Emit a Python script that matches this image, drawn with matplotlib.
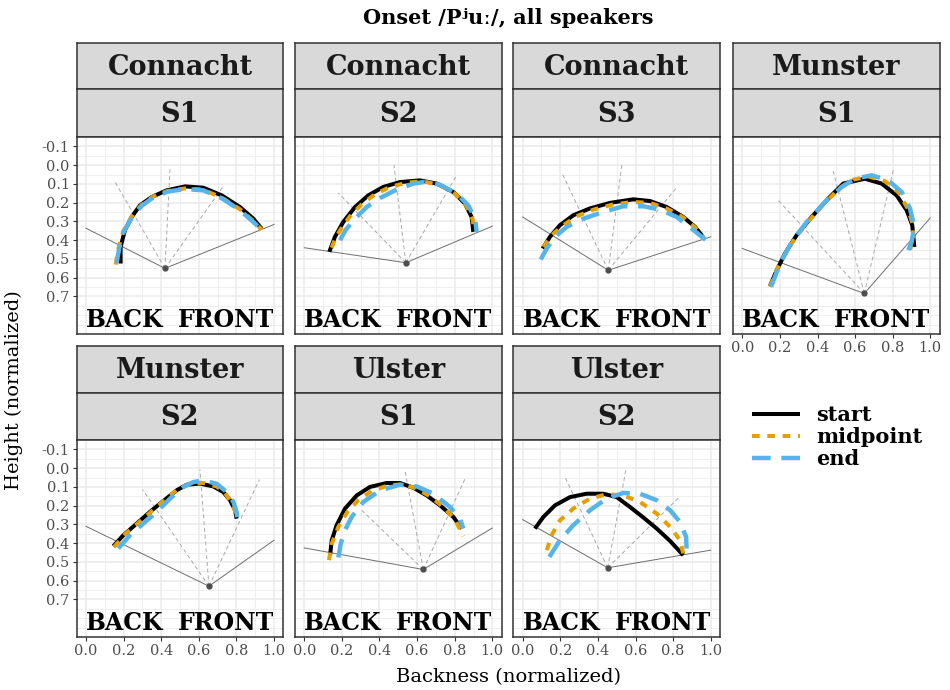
import matplotlib
matplotlib.use('Agg')
import matplotlib.pyplot as plt
from matplotlib.lines import Line2D
from matplotlib.ticker import FormatStrFormatter
import numpy as np

plt.rcParams['font.family'] = ['DejaVu Serif', 'DejaVu Sans']
plt.rcParams['axes.unicode_minus'] = False

# ---- tongue contours, (backness, height) per curve -------------------------
# Connacht S1
c1_fan = [(0.42, 0.55), (0.0, 0.336), (1.0, 0.316), (0.155, 0.09), (0.447, 0.016), (0.73, 0.113)]
c1_start = [(0.184, 0.524), (0.184, 0.436), (0.207, 0.347), (0.243, 0.276), (0.287, 0.214), (0.349, 0.170),
            (0.429, 0.134), (0.527, 0.113), (0.624, 0.120), (0.722, 0.161), (0.819, 0.223), (0.890, 0.285),
            (0.934, 0.338)]
c1_mid = [(0.158, 0.530), (0.172, 0.445), (0.198, 0.352), (0.243, 0.273), (0.295, 0.212), (0.355, 0.168),
          (0.435, 0.137), (0.527, 0.124), (0.624, 0.131), (0.722, 0.173), (0.819, 0.235), (0.890, 0.297),
          (0.934, 0.343)]
c1_end = [(0.163, 0.520), (0.177, 0.440), (0.202, 0.352), (0.246, 0.275), (0.298, 0.215), (0.358, 0.172),
          (0.438, 0.140), (0.527, 0.127), (0.624, 0.134), (0.722, 0.176), (0.815, 0.237), (0.885, 0.298),
          (0.926, 0.336)]

# Connacht S2
c2_fan = [(0.54, 0.52), (0.0, 0.44), (1.0, 0.325), (0.181, 0.148), (0.477, 0.001), (0.805, 0.063)]
c2_start = [(0.133, 0.462), (0.163, 0.382), (0.207, 0.303), (0.270, 0.223), (0.340, 0.161), (0.420, 0.116),
            (0.509, 0.090), (0.615, 0.081), (0.704, 0.098), (0.793, 0.143), (0.855, 0.205), (0.890, 0.276),
            (0.899, 0.356)]
c2_mid = [(0.145, 0.440), (0.165, 0.392), (0.190, 0.347), (0.243, 0.272), (0.305, 0.209), (0.376, 0.155),
          (0.456, 0.116), (0.545, 0.093), (0.633, 0.086), (0.722, 0.107), (0.802, 0.152), (0.864, 0.219),
          (0.896, 0.290), (0.904, 0.356)]
c2_end = [(0.190, 0.400), (0.220, 0.345), (0.270, 0.285), (0.332, 0.223), (0.403, 0.175), (0.491, 0.130),
          (0.580, 0.098), (0.633, 0.090), (0.722, 0.104), (0.811, 0.152), (0.872, 0.214), (0.908, 0.285),
          (0.917, 0.356)]

# Connacht S3
c3_fan = [(0.455, 0.56), (0.0, 0.276), (1.0, 0.382), (0.213, 0.051), (0.527, 0.001), (0.814, 0.125)]
c3_start = [(0.106, 0.444), (0.145, 0.382), (0.198, 0.320), (0.269, 0.267), (0.356, 0.231), (0.464, 0.201),
            (0.588, 0.182), (0.677, 0.191), (0.766, 0.223), (0.854, 0.276), (0.917, 0.329), (0.957, 0.379)]
c3_mid = [(0.110, 0.436), (0.154, 0.373), (0.216, 0.320), (0.287, 0.272), (0.376, 0.237), (0.482, 0.209),
          (0.588, 0.196), (0.677, 0.201), (0.766, 0.231), (0.854, 0.279), (0.917, 0.332), (0.964, 0.386)]
c3_end = [(0.096, 0.503), (0.128, 0.444), (0.172, 0.382), (0.234, 0.329), (0.322, 0.285), (0.429, 0.249),
          (0.535, 0.219), (0.642, 0.219), (0.730, 0.237), (0.819, 0.276), (0.899, 0.338), (0.975, 0.400)]

# Munster S1
m1_fan = [(0.649, 0.684), (0.0, 0.444), (1.0, 0.281), (0.191, 0.187), (0.484, 0.032), (0.803, 0.028)]
m1_start = [(0.147, 0.645), (0.183, 0.560), (0.227, 0.471), (0.289, 0.373), (0.369, 0.276), (0.457, 0.178),
            (0.537, 0.098), (0.652, 0.072), (0.741, 0.098), (0.821, 0.161), (0.874, 0.240), (0.904, 0.320),
            (0.915, 0.436)]
m1_mid = [(0.147, 0.648), (0.191, 0.542), (0.254, 0.427), (0.334, 0.320), (0.431, 0.209), (0.520, 0.120),
          (0.590, 0.077), (0.670, 0.060), (0.759, 0.085), (0.834, 0.148), (0.883, 0.237), (0.910, 0.329),
          (0.906, 0.409), (0.892, 0.450)]
m1_end = [(0.153, 0.648), (0.201, 0.524), (0.263, 0.409), (0.343, 0.303), (0.440, 0.196), (0.529, 0.116),
          (0.599, 0.072), (0.688, 0.054), (0.777, 0.081), (0.848, 0.143), (0.892, 0.231), (0.915, 0.329),
          (0.901, 0.409), (0.883, 0.453)]

# Munster S2
m2_fan = [(0.654, 0.629), (0.0, 0.31), (1.0, 0.384), (0.301, 0.114), (0.606, 0.008), (0.922, 0.061)]
m2_start = [(0.145, 0.416), (0.199, 0.357), (0.270, 0.295), (0.340, 0.233), (0.411, 0.175), (0.482, 0.118),
            (0.536, 0.088), (0.606, 0.082), (0.677, 0.097), (0.730, 0.127), (0.766, 0.171), (0.793, 0.224),
            (0.801, 0.269)]
m2_mid = [(0.149, 0.420), (0.207, 0.352), (0.278, 0.292), (0.349, 0.230), (0.420, 0.168), (0.491, 0.109),
          (0.553, 0.083), (0.624, 0.079), (0.695, 0.097), (0.739, 0.132), (0.771, 0.180), (0.793, 0.228),
          (0.798, 0.274)]
m2_end = [(0.172, 0.428), (0.234, 0.357), (0.305, 0.295), (0.376, 0.233), (0.447, 0.162), (0.518, 0.100),
          (0.571, 0.074), (0.624, 0.065), (0.695, 0.083), (0.748, 0.127), (0.784, 0.180), (0.801, 0.233),
          (0.805, 0.269)]

# Ulster S1
u1_fan = [(0.633, 0.540), (0.0, 0.425), (1.0, 0.319), (0.305, 0.224), (0.536, 0.015), (0.855, 0.056)]
u1_start = [(0.137, 0.464), (0.146, 0.384), (0.172, 0.304), (0.216, 0.216), (0.279, 0.145), (0.349, 0.100),
            (0.438, 0.079), (0.509, 0.079), (0.580, 0.104), (0.651, 0.145), (0.722, 0.198), (0.793, 0.260),
            (0.837, 0.322)]
u1_mid = [(0.131, 0.490), (0.146, 0.402), (0.181, 0.313), (0.229, 0.233), (0.287, 0.171), (0.358, 0.122),
          (0.447, 0.091), (0.527, 0.086), (0.598, 0.109), (0.668, 0.150), (0.739, 0.207), (0.802, 0.274),
          (0.846, 0.363)]
u1_end = [(0.181, 0.476), (0.194, 0.402), (0.216, 0.331), (0.252, 0.260), (0.314, 0.180), (0.403, 0.118),
          (0.509, 0.088), (0.598, 0.097), (0.686, 0.136), (0.775, 0.207), (0.828, 0.269), (0.846, 0.322)]

# Ulster S2
u2_fan = [(0.452, 0.531), (0.0, 0.274), (1.0, 0.437), (0.225, 0.047), (0.549, 0.008), (0.833, 0.154)]
u2_start = [(0.065, 0.322), (0.110, 0.260), (0.172, 0.198), (0.252, 0.154), (0.340, 0.136), (0.429, 0.136),
            (0.500, 0.154), (0.571, 0.207), (0.642, 0.263), (0.713, 0.322), (0.784, 0.388), (0.854, 0.464)]
u2_mid = [(0.128, 0.437), (0.154, 0.357), (0.198, 0.278), (0.269, 0.215), (0.358, 0.162), (0.447, 0.139),
          (0.535, 0.145), (0.624, 0.180), (0.713, 0.242), (0.784, 0.313), (0.837, 0.384), (0.854, 0.455)]
u2_end = [(0.142, 0.473), (0.198, 0.384), (0.269, 0.304), (0.358, 0.224), (0.447, 0.162), (0.535, 0.132),
          (0.624, 0.136), (0.713, 0.171), (0.784, 0.224), (0.837, 0.287), (0.869, 0.366), (0.872, 0.437)]

dialects = ['Connacht', 'Connacht', 'Connacht', 'Munster', 'Munster', 'Ulster', 'Ulster']
speakers = ['S1', 'S2', 'S3', 'S1', 'S2', 'S1', 'S2']
fans = [c1_fan, c2_fan, c3_fan, m1_fan, m2_fan, u1_fan, u2_fan]
starts = [c1_start, c2_start, c3_start, m1_start, m2_start, u1_start, u2_start]
mids = [c1_mid, c2_mid, c3_mid, m1_mid, m2_mid, u1_mid, u2_mid]
ends = [c1_end, c2_end, c3_end, m1_end, m2_end, u1_end, u2_end]
series_names = ['start', 'midpoint', 'end']

# ---- layout (pixels) --------------------------------------------------------
W, H = 950, 690
col_edges = [(76.6, 283.4), (294.9, 501.7), (513.3, 720.1), (732.9, 939.7)]
row_edges = [(42.7, 89.3, 136.6, 334.0), (346.0, 393.0, 439.6, 637.0)]

BORDER = '#333333'
STYLE = {
    'start': dict(color='black', lw=2.9, solid_capstyle='butt'),
    'midpoint': dict(color='#E69F00', lw=2.9, dashes=(1.9, 1.9), dash_capstyle='butt'),
    'end': dict(color='#56B4E9', lw=3.2, dashes=(4.2, 2.4), dash_capstyle='butt'),
}


def frac(left, top, right, bottom):
    return [left / W, 1 - bottom / H, (right - left) / W, (bottom - top) / H]


def strip(rect, label):
    sax = fig.add_axes(rect)
    sax.set_facecolor('#D9D9D9')
    sax.set_xticks([])
    sax.set_yticks([])
    for sp in sax.spines.values():
        sp.set_color(BORDER)
        sp.set_linewidth(1.1)
    sax.text(0.5, 0.47, label, transform=sax.transAxes, ha='center', va='center',
             fontsize=19.5, fontweight='bold', color='#1A1A1A')


fig = plt.figure(figsize=(W / 100, H / 100), dpi=100)

for i in range(7):
    row, col = divmod(i, 4)
    left, right = col_edges[col]
    s1_top, s2_top, p_top, p_bot = row_edges[row]

    strip(frac(left, s1_top, right, s2_top), dialects[i])
    strip(frac(left, s2_top, right, p_top), speakers[i])

    ax = fig.add_axes(frac(left, p_top, right, p_bot))
    ax.set_xlim(-0.05, 1.05)
    ax.set_ylim(0.8975, -0.1525)

    ax.set_xticks(np.arange(0, 1.01, 0.2))
    ax.set_xticks(np.arange(0.1, 1.0, 0.2), minor=True)
    ax.set_yticks(np.arange(-0.1, 0.71, 0.1))
    ax.set_yticks(np.arange(-0.15, 0.91, 0.05), minor=True)
    ax.xaxis.set_major_formatter(FormatStrFormatter('%.1f'))
    ax.yaxis.set_major_formatter(FormatStrFormatter('%.1f'))
    ax.grid(which='major', color='#EBEBEB', lw=1.1, zorder=0)
    ax.grid(which='minor', color='#EBEBEB', lw=0.6, zorder=0)
    ax.set_axisbelow(True)
    ax.tick_params(which='minor', length=0)
    ax.tick_params(which='major', length=3, width=0.8, color=BORDER,
                   labelcolor='#4D4D4D', labelsize=10.5, pad=2)
    show_x = row == 1 or col == 3
    show_y = col == 0
    ax.tick_params(axis='x', bottom=show_x, labelbottom=show_x)
    ax.tick_params(axis='y', left=show_y, labelleft=show_y)
    for sp in ax.spines.values():
        sp.set_color(BORDER)
        sp.set_linewidth(1.1)

    # measurement fan: two boundary lines and three dashed radii
    fan = fans[i]
    ox, oy = fan[0]
    for ex, ey in fan[1:3]:
        ax.plot([ox, ex], [oy, ey], color='#6E6E6E', lw=0.7, zorder=2)
    for ex, ey in fan[3:]:
        ax.plot([ox, ex], [oy, ey], color='#A8A8A8', lw=0.7, ls=(0, (4, 3)), zorder=2)
    ax.plot(ox, oy, 'o', ms=3.5, color='#4D4D4D', zorder=3)

    for name, pts in zip(series_names, [starts[i], mids[i], ends[i]]):
        xs = [p[0] for p in pts]
        ys = [p[1] for p in pts]
        ax.plot(xs, ys, label=name, zorder=4, **STYLE[name])

    ax.text(0.0, 0.863, 'BACK', ha='left', va='baseline', fontsize=17, fontweight='bold', color='black')
    ax.text(1.0, 0.863, 'FRONT', ha='right', va='baseline', fontsize=17, fontweight='bold', color='black')

fig.legend(handles=[Line2D([], [], **STYLE[n]) for n in series_names], labels=series_names,
           loc='center left', bbox_to_anchor=(733 / W, 1 - 437 / H), frameon=False,
           handlelength=2.3, handletextpad=0.8, labelspacing=0.1,
           prop={'size': 15, 'weight': 'bold'})

fig.text(508 / W, 1 - 18 / H, 'Onset /Pʲuː/, all speakers', ha='center', va='center',
         fontsize=15, fontweight='bold', color='black')
fig.text(508 / W, 1 - 677 / H, 'Backness (normalized)', ha='center', va='center', fontsize=14)
fig.text(14 / W, 1 - 390 / H, 'Height (normalized)', ha='center', va='center', rotation=90, fontsize=14)

fig.savefig('out.png', dpi=100)
